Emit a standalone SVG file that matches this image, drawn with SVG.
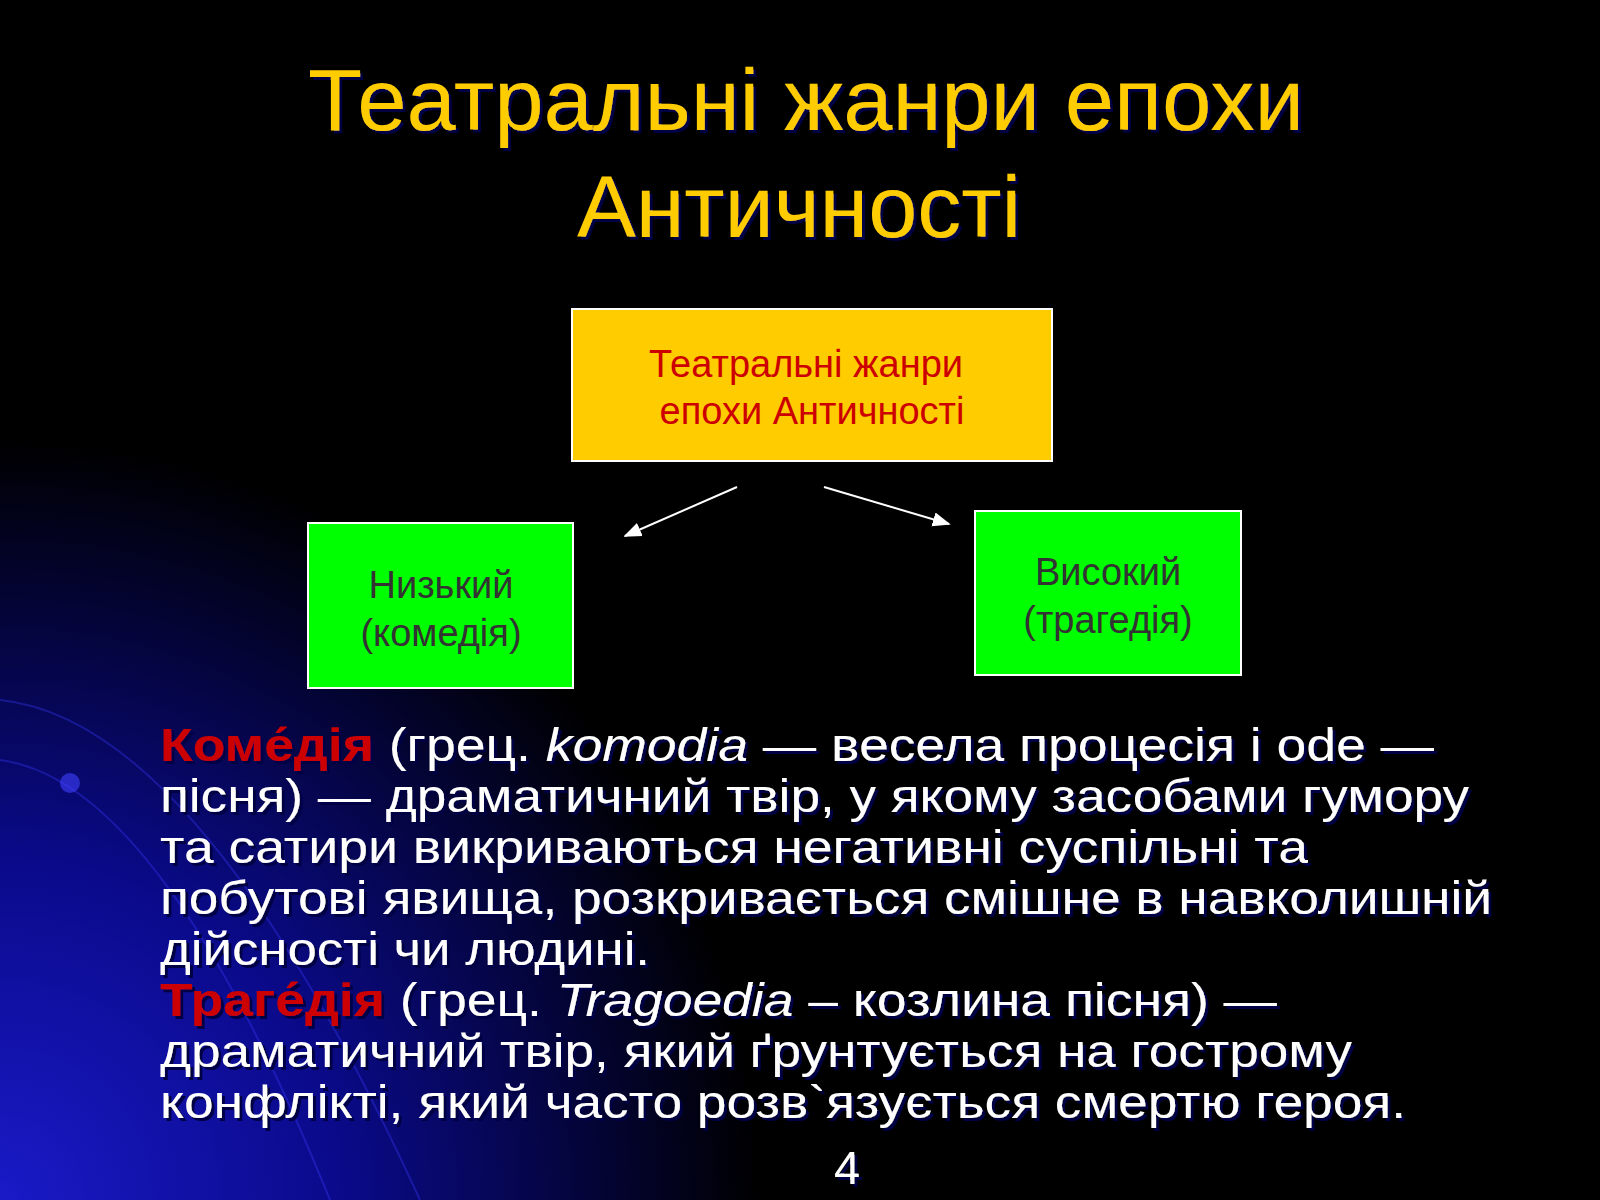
<svg xmlns="http://www.w3.org/2000/svg" width="1600" height="1200" viewBox="0 0 1600 1200">
<defs>
<radialGradient id="bg" cx="0" cy="1200" r="760" gradientUnits="userSpaceOnUse">
<stop offset="0" stop-color="#1a1ac8"/><stop offset="0.45" stop-color="#0a0a8a"/><stop offset="1" stop-color="#000000"/>
</radialGradient>
<filter id="ds" x="-5%" y="-20%" width="110%" height="140%"><feDropShadow dx="3" dy="3" stdDeviation="0" flood-color="#000044"/></filter>
<marker id="ah" viewBox="0 0 10 10" refX="9" refY="5" markerWidth="9" markerHeight="9" orient="auto"><path d="M0,1 L10,5 L0,9 Z" fill="#fff"/></marker>
</defs>
<style>
.t{font-family:"Liberation Sans",Arial,sans-serif}
.title{font-size:88px;fill:#FFCC00;text-anchor:middle}
.body{font-size:47px;fill:#fff}
.red{fill:#CC0000;font-weight:bold}
.box{font-size:38px;text-anchor:middle}
</style>
<rect width="1600" height="1200" fill="#000"/>
<rect width="1600" height="1200" fill="url(#bg)"/>
<g fill="none" stroke="#3a3aff" stroke-opacity="0.35" stroke-width="2">
<path d="M0,700 Q200,720 420,1200"/><path d="M0,760 Q160,780 330,1200"/>
</g>
<circle cx="70" cy="783" r="10" fill="#4040ff" opacity="0.6"/>
<g class="t" filter="url(#ds)">
<text class="title" x="806" y="130" textLength="996" lengthAdjust="spacingAndGlyphs">Театральні жанри епохи</text>
<text class="title" x="799" y="237">Античності</text>
</g>
<g id="n0"><rect x="572" y="309" width="480" height="152" fill="#FFCC00" stroke="#fff" stroke-width="2"/>
<text class="t box" fill="#CC0000"><tspan x="806" y="377">Театральні жанри</tspan><tspan x="812" y="424">епохи Античності</tspan></text></g>
<g id="n1"><rect x="308" y="523" width="265" height="165" fill="#00FF00" stroke="#fff" stroke-width="2"/>
<text class="t box" fill="#333"><tspan x="441" y="598">Низький</tspan><tspan x="441" y="646">(комедія)</tspan></text></g>
<g id="n2"><rect x="975" y="511" width="266" height="164" fill="#00FF00" stroke="#fff" stroke-width="2"/>
<text class="t box" fill="#333"><tspan x="1108" y="585">Високий</tspan><tspan x="1108" y="633">(трагедія)</tspan></text></g>
<g id="edges" stroke="#fff" stroke-width="2" marker-end="url(#ah)">
<line x1="737" y1="487" x2="625" y2="536"/><line x1="824" y1="487" x2="949" y2="524"/>
</g>
<g class="t" filter="url(#ds)">
<text class="body" x="160" y="761" textLength="1274" lengthAdjust="spacingAndGlyphs"><tspan class="red">Коме́дія</tspan> (грец. <tspan font-style="italic">komodia</tspan> — весела процесія і ode —</text>
<text class="body" x="160" y="812" textLength="1309" lengthAdjust="spacingAndGlyphs">пісня) — драматичний твір, у якому засобами гумору</text>
<text class="body" x="160" y="863" textLength="1148" lengthAdjust="spacingAndGlyphs">та сатири викриваються негативні суспільні та</text>
<text class="body" x="160" y="914" textLength="1332" lengthAdjust="spacingAndGlyphs">побутові явища, розкривається смішне в навколишній</text>
<text class="body" x="160" y="965" textLength="490" lengthAdjust="spacingAndGlyphs">дійсності чи людині.</text>
<text class="body" x="160" y="1016" textLength="1117" lengthAdjust="spacingAndGlyphs"><tspan class="red">Траге́дія</tspan> (грец. <tspan font-style="italic">Tragoedia</tspan> – козлина пісня) —</text>
<text class="body" x="160" y="1067" textLength="1192" lengthAdjust="spacingAndGlyphs">драматичний твір, який ґрунтується на гострому</text>
<text class="body" x="160" y="1118" textLength="1246" lengthAdjust="spacingAndGlyphs">конфлікті, який часто розв`язується смертю героя.</text>
<text class="body" x="847" y="1184" text-anchor="middle">4</text>
</g>
</svg>
